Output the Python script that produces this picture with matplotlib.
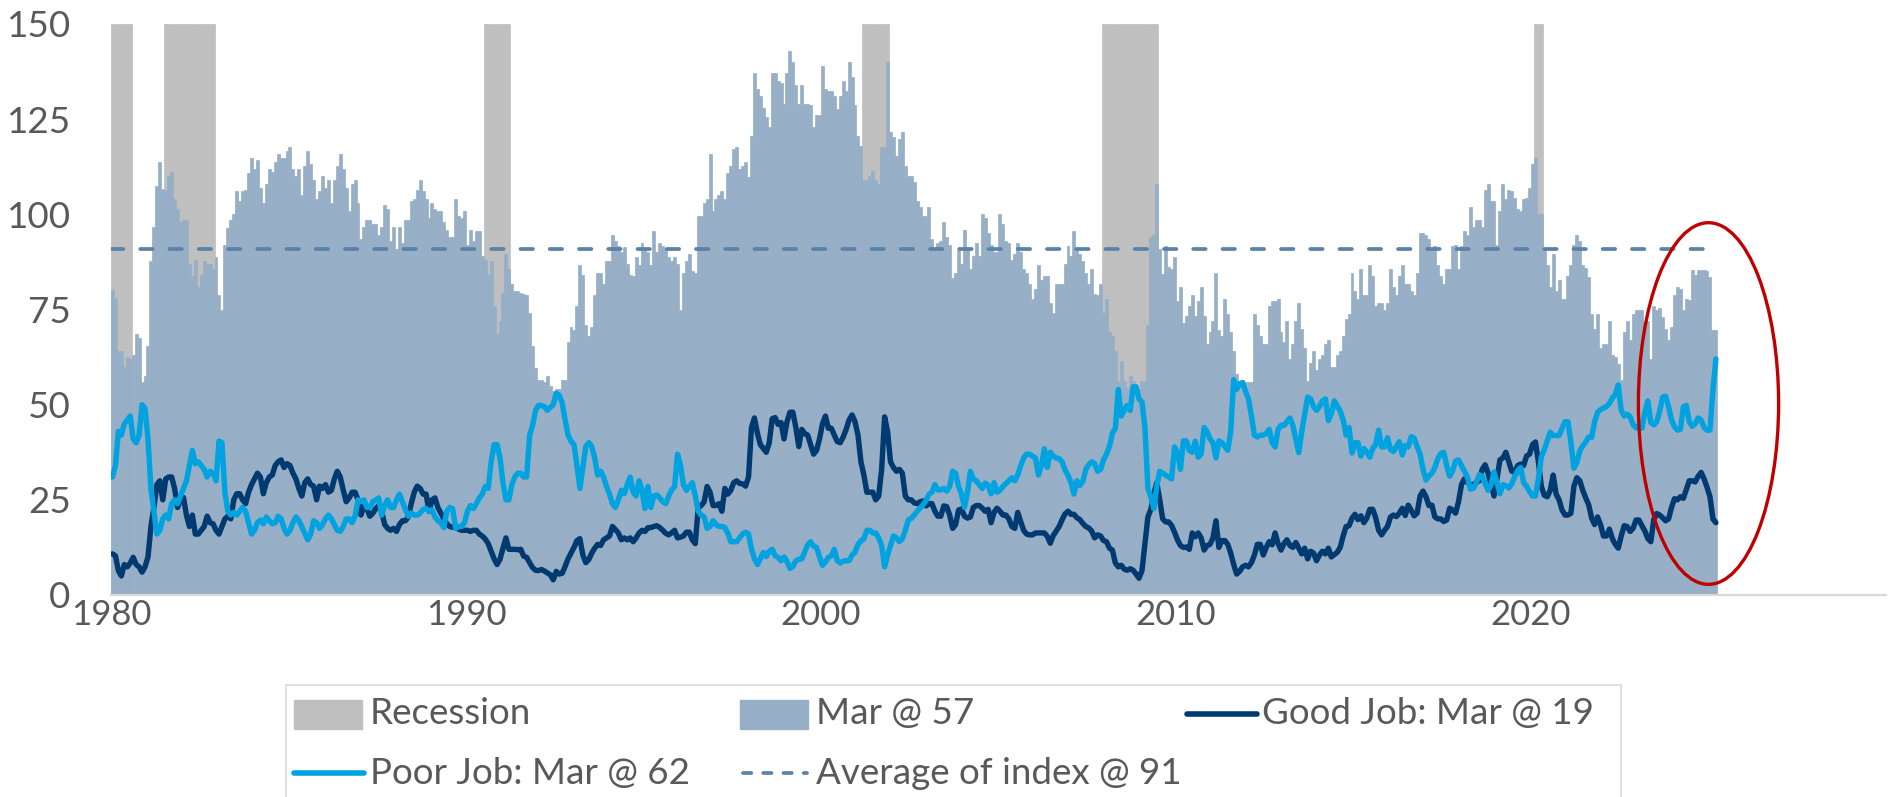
import matplotlib
matplotlib.use("Agg")
import matplotlib.pyplot as plt
import numpy as np
from matplotlib.patches import Ellipse, Rectangle
from matplotlib.lines import Line2D

plt.rcParams['font.family'] = ['Lato', 'DejaVu Sans']

# ---------------- data (monthly, Jan 1980 .. Mar 2025) ----------------
start_year = 1980

index_values = [
    80, 78, 64, 64, 60, 62.5, 62, 63, 68.5, 67.5, 56, 57.6,                      # 1980
    65.5, 87.7, 96.6, 107.4, 113.8, 106.7, 106.5, 110, 111, 104, 101.5, 98,       # 1981
    98.5, 98.5, 87, 83.7, 88, 80.8, 84, 87.7, 87, 87, 85.7, 88.7,                # 1982
    78.8, 74.9, 92, 96.5, 98.5, 100, 106, 103.5, 106, 106.4, 110.8, 114.8,        # 1983
    111.8, 114.3, 107, 103, 108, 112, 111, 113.8, 115.8, 114.8, 114.8, 116.7,     # 1984
    117.7, 111.8, 110, 111.8, 105, 112.8, 116.7, 113.3, 109, 104, 106, 110,       # 1985
    107, 109, 103, 109, 112.8, 115.8, 111.8, 107, 101, 108, 109, 103,             # 1986
    93.6, 96.6, 98.5, 98.5, 97.5, 97.5, 94.6, 96.6, 102.5, 101.5, 93, 96.6,       # 1987
    91, 96.6, 92.6, 98.5, 98.5, 103.4, 104, 106.4, 109, 106, 104, 99,             # 1988
    103, 101.5, 101, 101, 98, 96, 94, 94, 104, 99.5, 99, 101,                     # 1989
    92, 96, 93, 95.6, 95.6, 89, 88, 84, 87.7, 76, 68.5, 72,                       # 1990
    79.3, 89.7, 85.7, 81.8, 79.8, 79.8, 79.3, 79, 78.8, 74, 65.5, 59.6,           # 1991
    56.6, 56.6, 56, 57.6, 55, 53.7, 54, 54, 56.6, 56.6, 66.5, 70.4,               # 1992
    69.5, 76, 86.7, 84, 71, 68, 70.4, 78.8, 84.7, 84.7, 81.8, 87.7,               # 1993
    87.7, 94.6, 93, 91.6, 90, 91.5, 87, 84, 83.7, 88.7, 86.7, 92.6,               # 1994
    90.6, 90, 86.7, 95.6, 90, 92.6, 91.6, 91, 88.7, 87.7, 88.7, 87,               # 1995
    74.9, 84.7, 87.7, 89.7, 85.2, 84.7, 99.5, 99.5, 103, 104, 115.8, 101,         # 1996
    104, 105, 106, 104, 110.8, 112.8, 117.2, 117.7, 111.8, 112.8, 113.8, 109.9,   # 1997
    120.7, 137, 133, 131, 128, 125.6, 123, 137, 137, 135, 134.5, 129,             # 1998
    137, 143, 140, 134, 129, 134, 129, 129, 128.6, 123, 126, 126,                 # 1999
    139, 133, 132.5, 132.5, 131, 127.6, 131, 135, 132.5, 140, 136, 128.6,         # 2000
    120.7, 118, 109, 109, 110, 111.3, 109, 108, 117.7, 117.7, 140, 121.7,         # 2001
    120.2, 115.3, 119.7, 121.7, 112.8, 110, 110, 108.4, 103.4, 102, 99.5, 99.5,   # 2002
    102, 93.6, 90.6, 92.6, 93, 98, 94, 92, 83.3, 84.7, 90.6, 87,                  # 2003
    96, 90.6, 85.7, 89, 92.6, 89, 100, 99, 95, 92, 90, 90,                        # 2004
    100, 97.5, 93, 92.6, 88, 89.7, 92.6, 90, 85.7, 84.7, 81.8, 77.8,              # 2005
    80.3, 86.7, 82.8, 83.7, 83.7, 76.8, 74, 81.8, 81.8, 81.8, 87, 91.6,           # 2006
    89, 95.6, 90.6, 89.7, 87.7, 84.7, 81.8, 85.7, 79, 78.8, 81.8, 74,             # 2007
    77.8, 69, 68, 64, 56.2, 61.6, 56.2, 54.7, 57.6, 56.2, 54.2, 54.2,             # 2008
    56.2, 56.2, 71, 94, 94.6, 107.9, 91, 84.2, 91.6, 86.2, 85.7, 88.7,            # 2009
    77.3, 80.8, 71.4, 73.4, 75.9, 78.8, 73.4, 77.3, 80.8, 73.4, 66, 69,           # 2010
    71.9, 84.7, 69.5, 68, 77.8, 73.9, 69, 64, 58, 55, 56.5, 56,                   # 2011
    56, 56, 73.9, 71, 68, 66, 66, 75.9, 77.3, 77.3, 77.8, 69,                     # 2012
    66.5, 72, 62, 66, 72, 76.8, 70, 65, 56.2, 61, 64, 59,                         # 2013
    62, 63, 66, 67, 60, 60, 63, 64, 68, 72.4, 73.9, 84.7,                         # 2014
    79.8, 77.8, 85.7, 78.8, 78.8, 86.7, 83.7, 75.9, 76.8, 76.8, 74.9, 76.8,       # 2015
    85.7, 80.8, 78.8, 83.7, 86.7, 81.8, 81.8, 79.8, 78.8, 84.7, 95, 95,           # 2016
    94.6, 93.6, 90.6, 91.6, 86.7, 83.7, 81.8, 85.7, 85.7, 91.6, 92, 85.7,         # 2017
    91.6, 95.6, 94.6, 102, 96.6, 98.5, 98.5, 96.6, 106.4, 107.9, 103.4, 103.4,    # 2018
    92, 101, 107.9, 104, 106.4, 106, 104.4, 101.5, 101, 104, 104.4, 106.9,        # 2019
    113.3, 114.8, 100, 100, 91, 86.7, 80.8, 89.7, 79.8, 82.8, 77.8, 77.8,         # 2020
    83.7, 86.7, 92, 94.6, 93, 86.7, 86, 83.5, 73.9, 70, 73.9, 65,                 # 2021
    66, 66, 72, 63, 62.6, 60.6, 56.6, 69, 72, 67, 73.9, 74.9,                     # 2022
    74.9, 74.9, 72, 72, 62, 75.9, 74.9, 75.5, 72.9, 70, 67, 70.4,                 # 2023
    78.8, 80.8, 80.5, 74.9, 77.8, 77.4, 85.3, 84, 85.3, 85.5, 85.5, 85,           # 2024
    83.5, 69.6, 69.6,                                                             # 2025
]

good_job = [
    10.8, 10.3, 6.4, 5, 8, 7.4, 8.4, 9.9, 8, 7.4, 6, 7.4,
    10, 18, 23, 29, 30, 25, 30.5, 31, 31, 28, 23, 25,
    25.6, 21, 18, 21, 16, 16, 17, 18, 20.7, 19, 18.7, 17,
    16, 18, 20, 20.7, 20, 25, 26.6, 26.6, 25, 24, 27, 29,
    30.5, 32, 31, 26.6, 29.5, 31, 31.5, 34, 35, 35.5, 33.5, 34.5,
    34, 32, 30.5, 28, 26, 29.5, 30.5, 29, 28.6, 25, 28.6, 28,
    29, 27, 27.5, 30.5, 32.5, 31, 27.6, 24.5, 25.5, 27, 27, 25,
    21, 23.5, 22.7, 20.7, 21.5, 22.7, 23.5, 22, 18.5, 17.5, 17, 17.5,
    16.7, 18.5, 19.5, 19.5, 20.5, 24, 27, 28.6, 28, 26.5, 26.5, 22,
    25, 25.5, 23, 21.5, 20, 18.7, 18, 17.8, 17.7, 17.3, 17, 17,
    17, 16.7, 17, 17, 16, 15.5, 14.7, 13.5, 11.5, 9.5, 8, 9.4,
    12.3, 15, 12, 12, 12, 11.9, 12, 10.2, 9.9, 8.5, 7.2, 6.5,
    6.4, 6.7, 6.3, 5.8, 5.3, 4, 6.2, 5.5, 5.7, 7.5, 9.5, 11,
    12.5, 14.3, 14.8, 10.5, 8.5, 9.3, 11, 12.3, 13.3, 13, 14.5, 15,
    15.5, 18, 17.2, 16.3, 14.5, 15, 14.5, 15, 14, 15, 16.3, 17,
    16.7, 17.7, 17.7, 18, 18.2, 17.7, 17, 16.2, 15.8, 16.3, 17, 15,
    15.2, 15.5, 16.5, 16.5, 14.5, 13.5, 23, 23.5, 24.5, 28.5, 27, 23.5,
    23.5, 24, 22, 28, 26.5, 27.5, 29.5, 30, 29.3, 29.2, 28.6, 31,
    44, 46.5, 42.5, 39.5, 38.5, 37.5, 40, 46.3, 46.6, 44.8, 45.3, 41,
    45.5, 48, 48, 44, 39, 43.5, 42.4, 42, 39.5, 37, 38, 41,
    45, 47, 43.8, 43.8, 42, 40.3, 40, 41.5, 43.5, 46, 47.3, 45.5,
    42, 35, 31.5, 27, 27, 27, 25, 26, 33, 46.8, 43, 35,
    33.5, 32.5, 33, 32, 26, 25, 25, 24.2, 24, 24.5, 24.7, 23.4,
    24, 24, 22, 20.7, 20.7, 23.4, 23.2, 21, 17.5, 18.5, 22.3, 22.6,
    20.7, 20.2, 20.5, 23, 23.5, 23.5, 22.8, 22, 22.5, 19, 21.7, 22.8,
    22, 21, 21, 20, 18, 17.5, 21.7, 19.3, 17, 16, 15.8, 15.8,
    16.3, 16.3, 16.3, 16.3, 15.4, 13.6, 15.6, 16.8, 18, 19.8, 21.3, 22,
    21.2, 21.2, 20.3, 19.8, 18.8, 18, 17.6, 16.8, 15, 15.8, 15.5, 14.3,
    14, 12.3, 11.8, 8.4, 7.4, 7.8, 6.8, 6.5, 6.9, 6.5, 5.5, 4.4,
    6.4, 13.5, 20.5, 22.5, 26.5, 29.5, 25, 20, 19.2, 19.2, 18.3, 16.5,
    14.5, 13, 12.5, 12.6, 12, 16.3, 15.3, 16.3, 15, 11.8, 13, 13.3,
    15, 19.5, 12.5, 14.3, 14.3, 13.3, 11, 8, 5.5, 6.2, 7.4, 7.8,
    7.4, 8.5, 10.5, 13.3, 13.3, 10.5, 12.5, 14, 13.2, 16.3, 13.5, 11.8,
    13.5, 14.5, 13, 12.5, 13.8, 12.3, 10.8, 12.3, 9.5, 11.5, 11, 9,
    10.5, 11.5, 10.8, 12.3, 10, 10.6, 11.2, 12.5, 15.5, 18, 18.2, 20.2,
    21.2, 19.8, 20.8, 19, 20.2, 22.5, 22.5, 20.3, 17, 15.8, 17, 18,
    20.5, 21, 20.6, 21.5, 22.8, 20.9, 23.6, 22.3, 20.8, 21.5, 26, 27.3,
    25.8, 23.5, 23.6, 20.5, 20, 20, 19.3, 19.7, 22.8, 22.3, 21.5, 24.5,
    29, 30.5, 29.6, 29, 29, 29.6, 30, 33, 34.2, 32, 29, 26,
    30.5, 35.5, 36, 37.5, 35, 32.5, 32.3, 34, 34.4, 34, 36.5, 37,
    39.5, 40.2, 35, 28.5, 26.2, 25.8, 27.5, 31.5, 26.5, 25, 22.3, 21,
    21, 21.5, 28.6, 30.8, 30, 27.5, 25.5, 23.7, 20.2, 18.5, 20.5, 18.5,
    15.5, 15.5, 17.3, 14.8, 13.3, 12.3, 15.5, 18.2, 18, 16.7, 17.5, 19.7,
    19.7, 18.2, 16.8, 14.8, 14, 19.8, 21.4, 21, 20.3, 19.5, 20, 23,
    25.3, 25, 25.8, 25.4, 27.7, 30, 30, 29.7, 31.2, 32.2, 30.5, 28.3,
    25.8, 20, 19,
]

poor_job = [
    31, 34, 43, 42, 45, 46, 47, 41, 40, 42, 50, 49,
    41, 28, 22, 16, 17, 20, 21, 20, 24, 25, 24, 26,
    28, 30, 34, 38, 34.5, 35, 34, 33, 31, 32.5, 32, 30,
    40.4, 40, 27, 22, 21, 21.7, 21, 22, 23, 22, 19, 16,
    17, 19, 19.7, 18.7, 20.5, 19.5, 18.7, 19, 20.7, 20, 17.5, 16,
    17, 19, 20.5, 19.5, 18, 16.2, 14.5, 16, 19.5, 19, 17.5, 18.5,
    20, 21, 20, 18.5, 17, 16.7, 18, 20, 20, 19, 20.7, 25,
    24.5, 25, 23, 23, 24.5, 25, 25.5, 21, 23.5, 25, 23, 23,
    25, 26.5, 24.5, 22.5, 20.7, 21.5, 21, 21, 21.5, 22.5, 22.7, 22,
    22.4, 20.5, 19.5, 19, 17.7, 22, 23, 22.7, 17.5, 18, 18, 19,
    22, 23.5, 22.7, 24, 25.5, 26.5, 28.5, 28, 35, 39.5, 39.5, 36,
    29.5, 25, 25, 29, 31, 32, 32, 31, 31, 42, 44.5, 48.5,
    49.8, 49.8, 49.5, 48.5, 49.3, 50, 53, 52.5, 50.5, 46, 42, 40.4,
    39.5, 34, 28, 33.5, 39, 40, 39, 36, 31.5, 32.5, 31, 28.5,
    26.5, 24, 23, 25, 27.5, 26.6, 29, 31, 27, 26, 30, 27.5,
    22.7, 28.5, 23, 26, 26.3, 25.5, 24.5, 24, 26, 27.6, 28.5, 37,
    34, 29, 27.5, 28.5, 29.5, 26, 22, 21, 20.5, 17.5, 18, 19.5,
    18.5, 18, 18, 17.7, 16.3, 14, 14, 14, 15, 16, 16.5, 16,
    12, 9.5, 8, 9.5, 11.2, 10.1, 11.5, 12, 10.3, 9.9, 9, 10,
    8.8, 7, 7.5, 9, 9.4, 9.5, 11.3, 13.2, 14, 12.8, 12.5, 10,
    7.8, 8.7, 9.9, 10.3, 12, 9, 8.4, 8.9, 9, 9, 10.5, 11.2,
    13.3, 14.2, 14.8, 17, 17, 16.3, 16.3, 15, 13, 7.4, 10.5, 13,
    15.5, 15, 14, 14.8, 17, 19.7, 20.1, 21, 22, 22.8, 23.7, 24.8,
    26.5, 27, 29, 27.6, 27.6, 28, 27.3, 28.5, 32.5, 32, 28.5, 26.5,
    23, 27, 32.5, 30.5, 30, 29, 28, 29.4, 28.8, 26.6, 29.5, 27,
    27.5, 28.5, 29.3, 30, 30.8, 30, 31.5, 34, 36, 37, 37, 36.5,
    36, 31.5, 34, 38.4, 33.5, 37.5, 36.5, 36, 35.8, 35, 32.8, 31.4,
    29.6, 26.5, 30, 28.8, 29.8, 33, 34.2, 35, 34.5, 32.5, 33, 35.5,
    37, 39, 42.5, 43.8, 54, 47, 48.5, 49.8, 48.5, 54.7, 54.7, 51.5,
    50.7, 44, 28, 25.7, 22.7, 28.5, 32.5, 32, 31.5, 31, 30.5, 38.9,
    37.5, 33, 40.5, 40.5, 38, 37.5, 40.4, 36.2, 37, 44, 42.9, 41,
    40, 36, 40.5, 40, 39, 38, 43, 56.6, 54, 55.5, 55.8, 53.5,
    51.5, 47, 42, 41.5, 42, 42, 42.4, 43.5, 40, 38.9, 43.5, 44.6,
    44.5, 45.5, 46.5, 44.5, 41, 37.4, 42.9, 47.5, 52, 51.5, 49.5, 48.5,
    49.5, 51, 51.5, 45.8, 47.6, 51, 49.7, 48.3, 46, 42, 44, 37.3,
    40, 40, 36.5, 38.5, 37.5, 36.2, 38.5, 39.5, 43.3, 38.9, 38.9, 41.3,
    38.2, 37.7, 39, 40.3, 36.8, 39.3, 38.9, 41.6, 41.2, 39, 37, 33,
    30.2, 31.3, 32, 33.5, 35.8, 37.2, 37.5, 34, 31.2, 32.6, 35.2, 35.5,
    34, 32.5, 31, 27.8, 28, 29.5, 31.6, 31.2, 29.3, 27.5, 29, 32.3,
    29.6, 26.6, 29, 28.7, 28.1, 29.2, 31.2, 32.6, 33.5, 29.5, 28.6, 27.2,
    26, 26, 30.5, 36.3, 38.2, 40.5, 42.8, 41.9, 41.9, 41.9, 43.8, 45.5,
    45.5, 40, 33.3, 34.8, 37.9, 39.2, 40.2, 41.5, 41.4, 45.5, 48, 48.7,
    49.1, 49.5, 50.3, 51.8, 52.6, 55.2, 48.5, 47, 47.5, 46.8, 44.8, 43.9,
    44.3, 43.8, 48, 51, 45.3, 44.7, 45.5, 48.3, 52, 52.2, 49.5, 46,
    44.2, 43.3, 43.5, 49.4, 49.8, 45.5, 44.3, 45, 46.5, 46, 44, 43.3,
    43.3, 54, 62,
]

recessions = [("1980-01", "1980-07"), ("1981-07", "1982-11"), ("1990-07", "1991-03"),
              ("2001-03", "2001-11"), ("2007-12", "2009-06"), ("2020-02", "2020-04")]
average_index = 91
x_tick_years = [1980, 1990, 2000, 2010, 2020]
y_ticks = [0, 25, 50, 75, 100, 125, 150]
legend_labels = ["Recession", "Mar @ 57", "Good Job: Mar @ 19",
                 "Poor Job: Mar @ 62", "Average of index @ 91"]

assert len(index_values) == len(good_job) == len(poor_job) == 543

# ---------------- styling ----------------
C_BAR = '#97AFC6'
C_REC = '#BFBFBF'
C_GOOD = '#003A70'
C_POOR = '#00A3E0'
C_AVG = '#5B82A8'
C_TXT = '#595959'
C_AXIS = '#D9D9D9'
FS = 26.5
FS_X = 25

W, H = 1890, 797
fig = plt.figure(figsize=(W / 100, H / 100), dpi=100)
ax = fig.add_axes([111 / W, 1 - 595 / H, (1886 - 111) / W, (595 - 24) / H])

n = len(index_values)
months = np.arange(n)
x = start_year + (months + 0.5) / 12.0
width = 1 / 12.0

# recession shading bars
def month_idx(s):
    y, m = s.split('-')
    return (int(y) - start_year) * 12 + int(m) - 1

rec_months = []
for a, b in recessions:
    rec_months.extend(range(month_idx(a), month_idx(b) + 1))
rec_months = np.array(rec_months)
ax.bar(start_year + (rec_months + 0.5) / 12.0, np.full(len(rec_months), 150.0),
       width=width, color=C_REC, edgecolor=C_REC, linewidth=0.5, zorder=1)

# index bars
ax.bar(x, index_values, width=width, color=C_BAR, edgecolor=C_BAR,
       linewidth=0.5, zorder=2)

# average line
ax.plot([start_year, start_year + n / 12.0], [average_index, average_index],
        color=C_AVG, linewidth=2.7, linestyle=(0, (3.3, 4.5)),
        dash_capstyle='round', zorder=3)

# lines
ax.plot(x, good_job, color=C_GOOD, linewidth=3.9, solid_joinstyle='round',
        solid_capstyle='round', zorder=4)
ax.plot(x, poor_job, color=C_POOR, linewidth=3.9, solid_joinstyle='round',
        solid_capstyle='round', zorder=5)

# red ellipse highlight
ax.add_patch(Ellipse((2025.0, 50.3), 3.95, 95, fill=False, edgecolor='#C00000',
                     linewidth=2.4, zorder=6, clip_on=False))

ax.set_xlim(1980, 2030)
ax.set_ylim(0, 150)
ax.set_xticks(x_tick_years)
ax.set_xticklabels([str(v) for v in x_tick_years])
ax.set_yticks(y_ticks)
ax.set_yticklabels([str(v) for v in y_ticks])
ax.tick_params(axis='both', length=0, labelcolor=C_TXT)
ax.tick_params(axis='y', pad=29, labelsize=FS)
ax.tick_params(axis='x', pad=3, labelsize=FS_X)
for s in ['top', 'right', 'left']:
    ax.spines[s].set_visible(False)
ax.spines['bottom'].set_color(C_AXIS)
ax.spines['bottom'].set_linewidth(1.6)
ax.spines['bottom'].set_zorder(7)
ax.set_facecolor('none')

# ---------------- legend (manual, Excel-like) ----------------
def fx(px):
    return px / W

def fy(py):
    return 1 - py / H

tf = fig.transFigure
fig.add_artist(Rectangle((fx(286), -0.05), fx(1621) - fx(286), fy(685) + 0.05,
                         transform=tf, fill=False, edgecolor=C_AXIS, linewidth=1.2))

row_y = [714, 773]
col_x = [294, 740, 1187]
text_x = [370, 816, 1262]

# row 1
fig.add_artist(Rectangle((fx(col_x[0]), fy(row_y[0] + 14.5)), fx(68), 29 / H,
                         transform=tf, color=C_REC))
fig.text(fx(text_x[0]), fy(row_y[0]), legend_labels[0], fontsize=FS, color=C_TXT,
         va='center', ha='left')
fig.add_artist(Rectangle((fx(col_x[1]), fy(row_y[0] + 14.5)), fx(68), 29 / H,
                         transform=tf, color=C_BAR))
fig.text(fx(text_x[1]), fy(row_y[0]), legend_labels[1], fontsize=FS, color=C_TXT,
         va='center', ha='left')
fig.add_artist(Line2D([fx(col_x[2]), fx(col_x[2] + 70)], [fy(row_y[0])] * 2,
                      transform=tf, color=C_GOOD, linewidth=4.0, solid_capstyle='round'))
fig.text(fx(text_x[2]), fy(row_y[0]), legend_labels[2], fontsize=FS, color=C_TXT,
         va='center', ha='left')
# row 2
fig.add_artist(Line2D([fx(col_x[0]), fx(col_x[0] + 70)], [fy(row_y[1])] * 2,
                      transform=tf, color=C_POOR, linewidth=4.0, solid_capstyle='round'))
fig.text(fx(text_x[0]), fy(row_y[1]), legend_labels[3], fontsize=FS, color=C_TXT,
         va='center', ha='left')
fig.add_artist(Line2D([fx(col_x[1] + 3), fx(col_x[1] + 67)], [fy(row_y[1])] * 2,
                      transform=tf, color=C_AVG, linewidth=2.7,
                      linestyle=(0, (2.2, 3.2)), dash_capstyle='round'))
fig.text(fx(text_x[1]), fy(row_y[1]), legend_labels[4], fontsize=FS, color=C_TXT,
         va='center', ha='left')

fig.savefig('out.png', dpi=100)
